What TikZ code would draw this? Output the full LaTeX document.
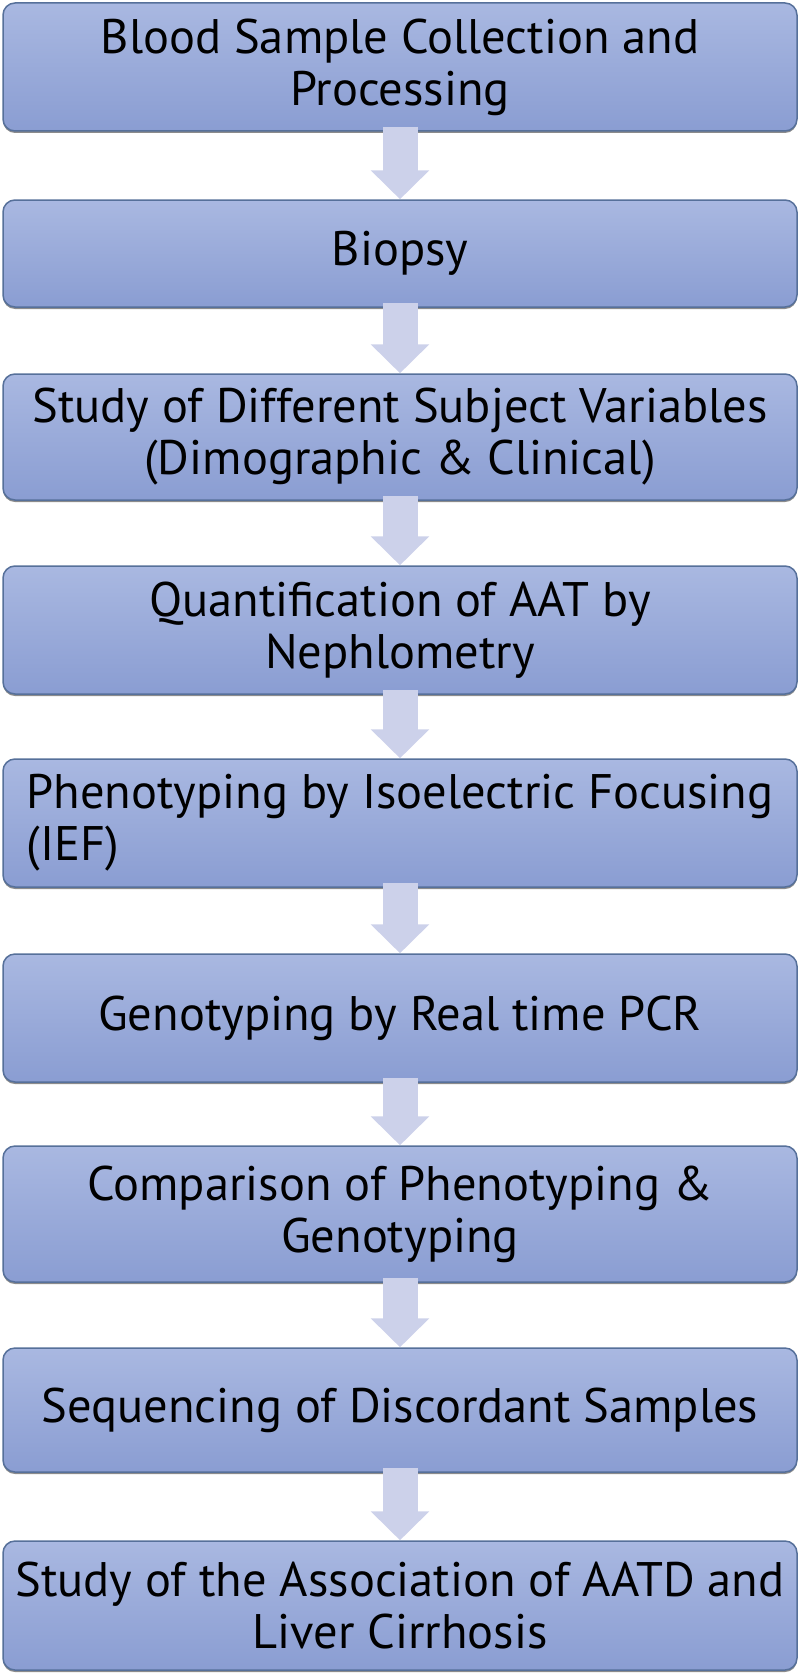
\documentclass[tikz,border=0pt]{standalone}
\usepackage{fontspec}
\setmainfont{PT Sans}
\usetikzlibrary{arrows.meta,shadows}
\definecolor{boxtop}{HTML}{A9B8E1}
\definecolor{boxbot}{HTML}{8A9DD2}
\definecolor{boxline}{HTML}{56709A}
\definecolor{arrowfill}{HTML}{CCD1EA}
\begin{document}
\begin{tikzpicture}[x=1pt,y=-1pt,
  stepbox/.style={rectangle, rounded corners=12pt, draw=boxline, line width=1.5pt,
    top color=boxtop, bottom color=boxbot, minimum width=794pt, align=center,
    font=\fontsize{48.5}{52}\selectfont, inner sep=0pt,
    drop shadow={shadow xshift=0pt, shadow yshift=-2pt, opacity=0.45, fill=black}},
  flow/.style={line width=35pt, draw=arrowfill, -{Triangle[width=57pt,length=29pt]}}]
\useasboundingbox (0,0) rectangle (800,1675);
\node[stepbox, minimum height=128pt] (b1) at (400,67) {Blood Sample Collection and\\Processing};
\node[stepbox, minimum height=107pt] (b2) at (400,253.5) {Biopsy};
\node[stepbox, minimum height=126pt] (b3) at (400,437) {Study of Different Subject Variables\\(Dimographic \& Clinical)};
\node[stepbox, minimum height=128pt] (b4) at (400,630) {Quantification of AAT by\\Nephlometry};
\node[stepbox, minimum height=128pt, align=left] (b5) at (400,823) {Phenotyping by Isoelectric Focusing\\(IEF)};
\node[stepbox, minimum height=128pt] (b6) at (400,1018) {Genotyping by Real time PCR};
\node[stepbox, minimum height=136pt] (b7) at (400,1214) {Comparison of Phenotyping \&\\Genotyping};
\node[stepbox, minimum height=124pt] (b8) at (400,1410) {Sequencing of Discordant Samples};
\node[stepbox, minimum height=129pt] (b9) at (400,1605.5) {Study of the Association of AATD and\\Liver Cirrhosis};
\foreach \a/\b in {b1/b2,b2/b3,b3/b4,b4/b5,b5/b6,b6/b7,b7/b8,b8/b9}
  \draw[flow] ([yshift=5pt]\a.south) -- (\b.north);
\end{tikzpicture}
\end{document}
